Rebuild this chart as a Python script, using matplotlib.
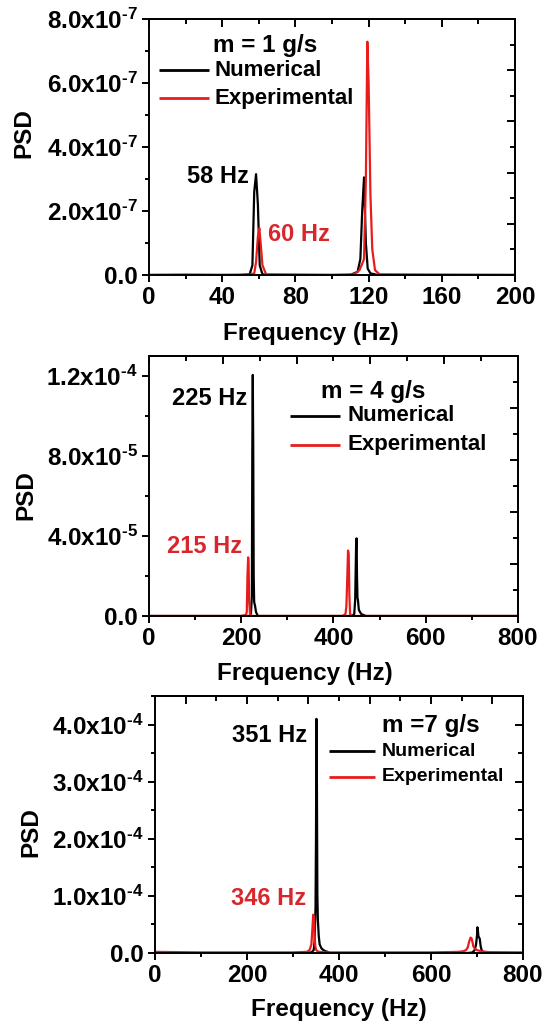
import matplotlib
matplotlib.use("Agg")
import matplotlib.pyplot as plt
from matplotlib.ticker import MultipleLocator, FixedLocator, NullFormatter

plt.rcParams['font.family'] = ['Liberation Sans', 'DejaVu Sans']
plt.rcParams['font.weight'] = 'bold'
plt.rcParams['mathtext.fontset'] = 'custom'
plt.rcParams['mathtext.rm'] = 'Liberation Sans:bold'
plt.rcParams['mathtext.it'] = 'Liberation Sans:bold'
plt.rcParams['mathtext.bf'] = 'Liberation Sans:bold'
plt.rcParams['mathtext.default'] = 'rm'

# panel 1, m = 1 g/s  (PSD in units of 1e-7)
f1_num = [0, 50, 55, 56.5, 57.5, 58.5, 59.5, 60.5, 62, 65, 110, 114, 115.5, 116.5, 117.5, 118.5, 119.5, 121, 125, 200]
p1_num = [0, 0, 0.02, 0.3, 2.6, 3.15, 2.2, 0.3, 0.02, 0, 0, 0.1, 0.5, 2.0, 3.05, 1.0, 0.2, 0.05, 0, 0]
f1_exp = [0, 20, 40, 55, 57.5, 58.5, 59.5, 60.3, 61, 62, 64, 100, 112, 115, 116.5, 117.5, 118.5, 119.3, 120, 121, 122, 123.5, 126, 150, 200]
p1_exp = [0, 0.01, 0, 0.01, 0.05, 0.4, 1.2, 1.46, 1.0, 0.3, 0.02, 0, 0.02, 0.15, 0.35, 0.5, 3.0, 7.29, 6.0, 2.5, 0.8, 0.15, 0.02, 0.01, 0]

# panel 2, m = 4 g/s  (units of 1e-5)
f2_num = [0, 200, 218, 221, 223, 224, 225, 226, 227, 228, 230, 232, 236, 440, 445, 447, 449, 450, 451, 452, 453, 455, 460, 470, 800]
p2_num = [0, 0, 0, 0.1, 1.0, 8.4, 12.05, 8.4, 2.0, 0.7, 0.5, 0.2, 0, 0, 0.1, 0.8, 3.5, 3.88, 2.0, 0.9, 0.8, 0.3, 0.1, 0, 0]
f2_exp = [0, 100, 200, 210, 212, 213.5, 215, 216, 217, 219, 222, 300, 420, 426, 428, 430, 431.5, 433, 434.5, 436, 440, 800]
p2_exp = [0, 0, 0, 0.05, 0.2, 2.0, 2.93, 2.6, 0.8, 0.1, 0, 0, 0, 0.1, 0.5, 2.0, 3.27, 3.1, 1.0, 0.1, 0, 0]

# panel 3, m = 7 g/s  (units of 1e-4)
f3_num = [0, 300, 340, 345, 347, 349, 350, 351, 352, 353, 354, 356, 358, 362, 368, 375, 380, 400,
          680, 690, 695, 698, 700, 701, 702, 703, 704, 706, 708, 710, 715, 800]
p3_num = [0, 0, 0.01, 0.05, 0.2, 0.8, 2.0, 4.1, 3.0, 1.05, 0.6, 0.3, 0.15, 0.08, 0.04, 0.02, 0, 0,
          0, 0.01, 0.05, 0.15, 0.3, 0.45, 0.4, 0.3, 0.28, 0.25, 0.12, 0.05, 0.01, 0]
f3_exp = [0, 100, 300, 330, 336, 340, 342, 344, 345.5, 347, 348.5, 350, 353, 358, 370,
          600, 660, 670, 676, 680, 683, 686, 688, 690, 692, 695, 700, 710, 720, 730, 800]
p3_exp = [0.02, 0.01, 0.01, 0.02, 0.05, 0.15, 0.4, 0.67, 0.6, 0.3, 0.12, 0.06, 0.03, 0.02, 0.01,
          0.01, 0.02, 0.03, 0.05, 0.1, 0.2, 0.27, 0.26, 0.2, 0.12, 0.08, 0.05, 0.03, 0.02, 0.01, 0.01]

titles = ['m = 1 g/s', 'm = 4 g/s', 'm =7 g/s']
peak_num_labels = ['58 Hz', '225 Hz', '351 Hz']
peak_exp_labels = ['60 Hz', '215 Hz', '346 Hz']

RED = '#e81c1c'
RED_TXT = '#d8262c'
TICK_FS = 17.5
TITLE_FS = 17.5
PEAK_FS = 17
LAB_FS = 17.5

fig = plt.figure(figsize=(5.49, 10.21), dpi=100)


def ylab(v, exp):
    if v == 0:
        return '0.0'
    return '%.1fx10$^{\\text{-%d}}$' % (v, -exp)


def style(ax, xmax, xmaj, xmin, yscale, exp, ymax, ymaj, ymin, rmaj, rmin, tmaj, tmin):
    ax.set_xlim(0, xmax)
    ax.set_ylim(0, ymax * yscale)
    ax.xaxis.set_major_locator(MultipleLocator(xmaj))
    ax.xaxis.set_minor_locator(MultipleLocator(xmin))
    yt = [i * ymaj for i in range(int(round(ymax / ymaj)) + 1) if i * ymaj <= ymax + 1e-9]
    ax.set_yticks([v * yscale for v in yt])
    ax.set_yticklabels([ylab(v, exp) for v in yt])
    ax.yaxis.set_minor_locator(MultipleLocator(ymin * yscale))
    ax.tick_params(which='both', direction='out', width=1.4, labelsize=TICK_FS)
    ax.tick_params(axis='x', pad=3)
    ax.tick_params(axis='y', pad=3)
    ax.tick_params(which='major', length=5)
    ax.tick_params(which='minor', length=3)
    for s in ax.spines.values():
        s.set_linewidth(1.4)
    for lab in ax.get_xticklabels() + ax.get_yticklabels():
        lab.set_fontweight('bold')
    # opposite axes (Origin style, ticks inward)
    ry = ax.secondary_yaxis('right')
    ry.set_yticks([v * yscale for v in rmaj])
    ry.yaxis.set_minor_locator(FixedLocator([v * yscale for v in rmin]))
    ry.yaxis.set_major_formatter(NullFormatter())
    ry.tick_params(which='both', direction='in', width=1.4)
    ry.tick_params(which='major', length=6)
    ry.tick_params(which='minor', length=3.5)
    tx = ax.secondary_xaxis('top')
    tx.set_xticks(tmaj)
    tx.xaxis.set_minor_locator(FixedLocator(tmin))
    tx.xaxis.set_major_formatter(NullFormatter())
    tx.tick_params(which='both', direction='in', width=1.4)
    tx.tick_params(which='major', length=6)
    tx.tick_params(which='minor', length=3.5)
    for sa in (ry, tx):
        for s in sa.spines.values():
            s.set_linewidth(1.4)


def legend(ax, title, tx, ty, lx0, lx1, ly1, ly2, textx, fs):
    ax.text(tx, ty, title, transform=ax.transAxes, fontsize=TITLE_FS, fontweight='bold', va='center', ha='left')
    ax.plot([lx0, lx1], [ly1, ly1], color='black', lw=2, transform=ax.transAxes, solid_capstyle='butt')
    ax.plot([lx0, lx1], [ly2, ly2], color=RED, lw=2, transform=ax.transAxes, solid_capstyle='butt')
    ax.text(textx, ly1, 'Numerical', transform=ax.transAxes, fontsize=fs, fontweight='bold', va='center', ha='left')
    ax.text(textx, ly2, 'Experimental', transform=ax.transAxes, fontsize=fs, fontweight='bold', va='center', ha='left')


def labels(ax, xc, yc, px, py):
    ax.set_xlabel('Frequency (Hz)', fontsize=LAB_FS, fontweight='bold')
    ax.set_ylabel('PSD', fontsize=LAB_FS, fontweight='bold')
    ax.xaxis.set_label_coords(xc, yc)
    ax.yaxis.set_label_coords(px, py)


# ---- panel 1
ax1 = fig.add_axes([0.2714, 0.7307, 0.6667, 0.2507])
ax1.plot(f1_num, [p * 1e-7 for p in p1_num], color='black', lw=1.6)
ax1.plot(f1_exp, [p * 1e-7 for p in p1_exp], color=RED, lw=1.6)
style(ax1, 200, 40, 20, 1e-7, -7, 8.0, 2.0, 1.0,
      [0, 1.6, 3.2, 4.8, 6.4, 8.0], [0.8, 2.4, 4.0, 5.6, 7.2],
      [i * 40 for i in range(6)], [20 + i * 40 for i in range(5)])
legend(ax1, titles[0], 0.175, 0.898, 0.027, 0.164, 0.80, 0.691, 0.18, 16)
ax1.text(54.6, 3.09e-7, peak_num_labels[0], fontsize=PEAK_FS, fontweight='bold', ha='right', va='center')
ax1.text(65, 1.28e-7, peak_exp_labels[0], fontsize=PEAK_FS, fontweight='bold', ha='left', va='center', color=RED_TXT)
labels(ax1, 0.443, -0.184, -0.311, 0.555)

# ---- panel 2
ax2 = fig.add_axes([0.2714, 0.3967, 0.6721, 0.2547])
ax2.plot(f2_num, [p * 1e-5 for p in p2_num], color='black', lw=1.6)
ax2.plot(f2_exp, [p * 1e-5 for p in p2_exp], color=RED, lw=1.6)
style(ax2, 800, 200, 100, 1e-5, -5, 13.0, 4.0, 2.0,
      [0, 2.6, 5.2, 7.8, 10.4, 13.0], [1.3, 3.9, 6.5, 9.1, 11.7],
      [i * 160 for i in range(6)], [80 + i * 160 for i in range(5)])
ax2.set_yticklabels(['0.0', ylab(4.0, -5), ylab(8.0, -5), ylab(1.2, -4)])
legend(ax2, titles[1], 0.466, 0.865, 0.382, 0.518, 0.769, 0.658, 0.537, 16)
ax2.text(212.5, 1.085e-4, peak_num_labels[1], fontsize=PEAK_FS, fontweight='bold', ha='right', va='center')
ax2.text(201.6, 3.45e-5, peak_exp_labels[1], fontsize=PEAK_FS, fontweight='bold', ha='right', va='center', color=RED_TXT)
labels(ax2, 0.423, -0.177, -0.303, 0.465)

# ---- panel 3
ax3 = fig.add_axes([0.2823, 0.0666, 0.6703, 0.2517])
ax3.plot(f3_num, [p * 1e-4 for p in p3_num], color='black', lw=1.6)
ax3.plot(f3_exp, [p * 1e-4 for p in p3_exp], color=RED, lw=1.6)
step = 800 / 12
style(ax3, 800, 200, 100, 1e-4, -4, 4.5, 1.0, 0.5,
      [0, 1.0, 2.0, 3.0, 4.0], [0.5, 1.5, 2.5, 3.5, 4.5],
      [step * (2 * i + 1) for i in range(6)], [step * 2 * i for i in range(7)])
legend(ax3, titles[2], 0.617, 0.887, 0.473, 0.598, 0.786, 0.685, 0.617, 14)
ax3.text(330, 3.81e-4, peak_num_labels[2], fontsize=PEAK_FS, fontweight='bold', ha='right', va='center')
ax3.text(328, 0.96e-4, peak_exp_labels[2], fontsize=PEAK_FS, fontweight='bold', ha='right', va='center', color=RED_TXT)
labels(ax3, 0.5, -0.175, -0.307, 0.47)

fig.savefig('out.png', dpi=100)
